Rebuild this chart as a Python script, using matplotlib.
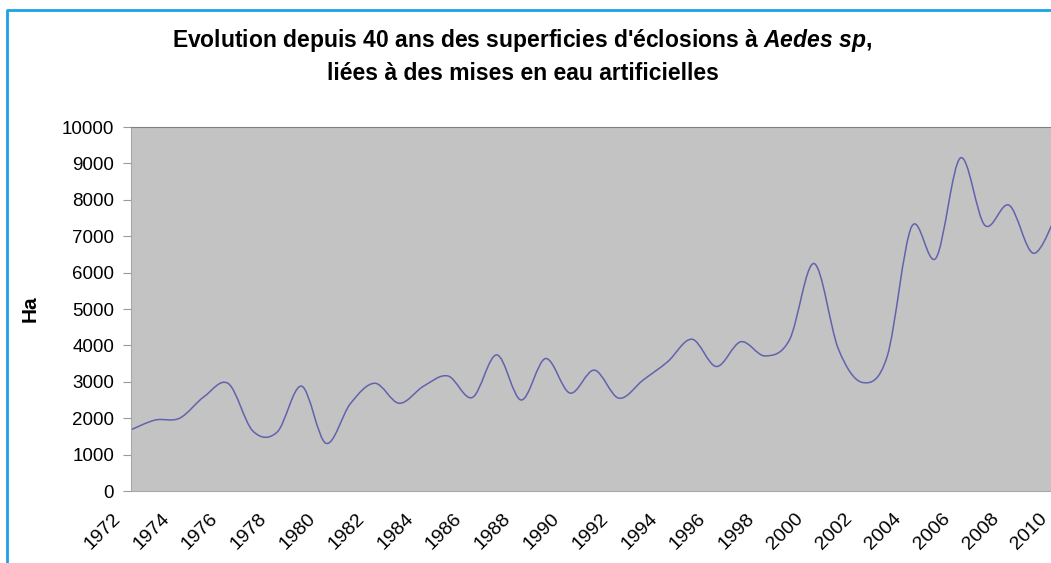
import numpy as np
import matplotlib
matplotlib.use("Agg")
import matplotlib.pyplot as plt
from matplotlib.path import Path
from matplotlib.patches import PathPatch
from matplotlib.lines import Line2D
from matplotlib.transforms import ScaledTranslation

# Data (hectares per year)
years = list(range(1972, 2011))
surface_ha = [1680, 1950, 2000, 2590, 2950, 1650, 1620, 2880, 1310, 2400,
              2960, 2410, 2880, 3160, 2570, 3740, 2500, 3640, 2690, 3320,
              2550, 3050, 3550, 4170, 3420, 4100, 3710, 4160, 6250, 3900,
              2980, 3700, 7260, 6400, 9150, 7300, 7850, 6530, 7700]
tick_years = list(range(1972, 2011, 2))
title_l1 = "Evolution depuis 40 ans des superficies d'éclosions à $\\it{Aedes\\ sp}$,"
title_l2 = "liées à des mises en eau artificielles"

plt.rcParams['font.family'] = ['Liberation Sans', 'DejaVu Sans']
plt.rcParams['mathtext.fontset'] = 'custom'
plt.rcParams['mathtext.it'] = 'Liberation Sans:italic:bold'
plt.rcParams['mathtext.rm'] = 'Liberation Sans:bold'

W, H = 1051, 563
fig = plt.figure(figsize=(W / 100, H / 100), dpi=100)
fig.patch.set_facecolor('white')

# plot area, extends past the right border (the picture is cropped there)
left, right, bottom, top = 130.8, 1058, 491, 127
ax = fig.add_axes([left / W, 1 - bottom / H, (right - left) / W, (bottom - top) / H])
ax.set_facecolor('#c3c3c3')
ax.set_xlim(1972, 2010)
ax.set_ylim(0, 10000)

# Excel-like smoothed line: cubic Bezier through every point
x = np.array(years, dtype=float)
y = np.array(surface_ha, dtype=float)
n = len(x)
verts = [(x[0], y[0])]
codes = [Path.MOVETO]
for i in range(n - 1):
    i0, i2, i3 = max(i - 1, 0), i + 1, min(i + 2, n - 1)
    c1 = (x[i] + (x[i2] - x[i0]) / 6, y[i] + (y[i2] - y[i0]) / 6)
    c2 = (x[i2] - (x[i3] - x[i]) / 6, y[i2] - (y[i3] - y[i]) / 6)
    verts += [c1, c2, (x[i2], y[i2])]
    codes += [Path.CURVE4] * 3
ax.add_patch(PathPatch(Path(verts, codes), facecolor='none',
                       edgecolor='#6262ae', lw=1.1))

ax.set_yticks(range(0, 10001, 1000))
ax.set_xticks(tick_years)
ax.set_xticklabels([str(t) for t in tick_years], rotation=45, ha='right',
                   va='center', rotation_mode='anchor')
ax.tick_params(axis='y', direction='out', length=6, color='#9a9a9a',
               labelsize=13.5, pad=6)
ax.tick_params(axis='x', direction='out', length=0, labelsize=14, pad=18)
for lab in ax.get_xticklabels():
    lab.set_transform(lab.get_transform() +
                      ScaledTranslation(-13 / 100, 0, fig.dpi_scale_trans))

for side in ['left', 'bottom']:
    ax.spines[side].set_color('#a8a8a8')
ax.spines['top'].set_color('#808080')
ax.spines['right'].set_visible(False)

ax.set_ylabel('Ha', fontsize=15, fontweight='bold', labelpad=16)

fig.text(0.497, 1 - 40 / H, title_l1, ha='center', va='center',
         fontsize=16.5, fontweight='bold')
fig.text(0.498, 1 - 73 / H, title_l2, ha='center', va='center',
         fontsize=16.5, fontweight='bold')

# blue frame of the original figure
fig.add_artist(Line2D([7 / W, 7 / W, 1], [0, 1 - 10 / H, 1 - 10 / H],
                      transform=fig.transFigure, color='#1aa3e8', lw=2))

fig.savefig('out.png', dpi=100)
